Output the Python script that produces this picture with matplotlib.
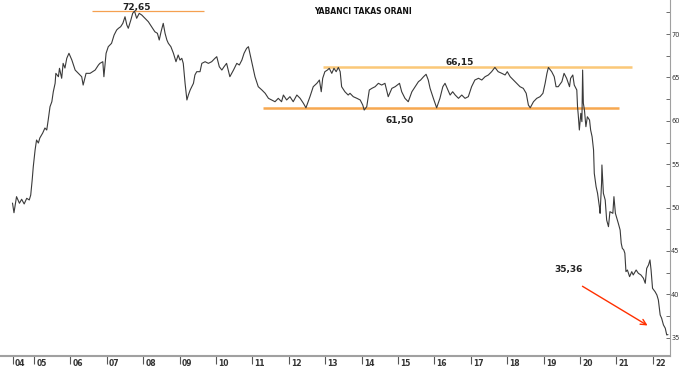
import numpy as np
import matplotlib.pyplot as plt
from matplotlib.transforms import blended_transform_factory

# yabanci takas orani (foreign share, %)
years = [2004.41, 2004.45, 2004.52, 2004.60, 2004.66, 2004.73, 2004.80, 2004.87, 2004.91, 2004.95,
         2004.98, 2005.03, 2005.07, 2005.12, 2005.16, 2005.24, 2005.30, 2005.35, 2005.39, 2005.44,
         2005.49, 2005.53, 2005.58, 2005.60, 2005.67, 2005.70, 2005.76, 2005.80, 2005.85, 2005.90,
         2005.96, 2006.04, 2006.13, 2006.22, 2006.31, 2006.35, 2006.43, 2006.54, 2006.68, 2006.77,
         2006.81, 2006.89, 2006.92, 2006.98, 2007.04, 2007.13, 2007.20, 2007.27, 2007.32, 2007.38,
         2007.44, 2007.50, 2007.55, 2007.59, 2007.66, 2007.71, 2007.76, 2007.82, 2007.89, 2007.96,
         2008.05, 2008.14, 2008.23, 2008.32, 2008.39, 2008.44, 2008.49, 2008.55, 2008.60, 2008.65,
         2008.69, 2008.76, 2008.83, 2008.90, 2008.96, 2009.01, 2009.06, 2009.10, 2009.15, 2009.20,
         2009.24, 2009.29, 2009.38, 2009.42, 2009.47, 2009.56, 2009.61, 2009.70, 2009.79, 2009.88,
         2009.97, 2010.02, 2010.09, 2010.16, 2010.22, 2010.29, 2010.38, 2010.48, 2010.57, 2010.64,
         2010.71, 2010.77, 2010.84, 2010.89, 2010.93, 2011.01, 2011.07, 2011.16, 2011.26, 2011.35,
         2011.44, 2011.53, 2011.62, 2011.71, 2011.80, 2011.85, 2011.94, 2012.03, 2012.12, 2012.22,
         2012.31, 2012.40, 2012.47, 2012.58, 2012.67, 2012.77, 2012.84, 2012.89, 2012.93, 2012.99,
         2013.06, 2013.11, 2013.18, 2013.24, 2013.30, 2013.36, 2013.41, 2013.45, 2013.54, 2013.63,
         2013.68, 2013.77, 2013.87, 2013.96, 2014.03, 2014.07, 2014.14, 2014.21, 2014.28, 2014.37,
         2014.46, 2014.55, 2014.64, 2014.73, 2014.83, 2014.92, 2015.04, 2015.10, 2015.19, 2015.28,
         2015.38, 2015.47, 2015.56, 2015.62, 2015.70, 2015.77, 2015.83, 2015.88, 2015.97, 2016.06,
         2016.15, 2016.23, 2016.29, 2016.35, 2016.43, 2016.50, 2016.57, 2016.66, 2016.75, 2016.84,
         2016.93, 2017.02, 2017.11, 2017.21, 2017.30, 2017.39, 2017.48, 2017.57, 2017.66, 2017.75,
         2017.85, 2017.94, 2018.00, 2018.08, 2018.17, 2018.26, 2018.35, 2018.44, 2018.52, 2018.58,
         2018.63, 2018.72, 2018.81, 2018.90, 2018.98, 2019.04, 2019.09, 2019.13, 2019.22, 2019.29,
         2019.34, 2019.40, 2019.50, 2019.56, 2019.63, 2019.71, 2019.74, 2019.80, 2019.84, 2019.91,
         2019.93, 2019.95, 2019.98, 2020.02, 2020.05, 2020.07, 2020.09, 2020.12, 2020.16, 2020.20,
         2020.26, 2020.29, 2020.33, 2020.37, 2020.39, 2020.44, 2020.48, 2020.53, 2020.55, 2020.59,
         2020.60, 2020.64, 2020.69, 2020.73, 2020.78, 2020.82, 2020.90, 2020.93, 2020.97, 2021.05,
         2021.10, 2021.13, 2021.16, 2021.20, 2021.23, 2021.26, 2021.30, 2021.36, 2021.42, 2021.46,
         2021.54, 2021.60, 2021.67, 2021.74, 2021.79, 2021.83, 2021.88, 2021.92, 2021.95, 2021.99,
         2022.06, 2022.11, 2022.15, 2022.20, 2022.24, 2022.29, 2022.34, 2022.38, 2022.41]
ratio = [50.50, 49.41, 51.26, 50.50, 50.96, 50.42, 51.07, 50.88, 51.45, 53.18,
         54.71, 56.64, 57.79, 57.44, 58.02, 58.60, 59.17, 58.94, 60.09, 61.63,
         62.20, 63.35, 64.32, 65.47, 65.08, 66.05, 64.90, 66.62, 66.08, 67.20,
         67.78, 67.00, 65.85, 65.47, 65.08, 64.12, 65.47, 65.47, 65.85, 66.43,
         66.62, 66.81, 65.08, 67.78, 68.54, 68.93, 69.88, 70.46, 70.66, 70.84,
         71.23, 71.99, 71.04, 70.66, 71.61, 72.38, 72.65, 71.81, 72.38, 72.19,
         71.81, 71.42, 70.84, 70.26, 70.08, 69.31, 70.26, 71.23, 70.08, 69.31,
         68.93, 68.54, 67.78, 66.81, 67.58, 67.00, 67.20, 66.62, 64.32, 62.40,
         62.97, 63.55, 64.32, 65.28, 65.66, 65.66, 66.62, 66.81, 66.62, 66.81,
         67.20, 67.39, 66.23, 65.85, 66.23, 66.62, 65.08, 65.85, 66.62, 66.43,
         67.00, 67.78, 68.35, 68.54, 67.78, 66.23, 65.08, 63.93, 63.55, 63.17,
         62.59, 62.40, 62.20, 62.59, 62.20, 62.97, 62.40, 62.78, 62.20, 62.97,
         62.59, 62.02, 61.50, 62.78, 63.93, 64.32, 64.70, 63.35, 64.90, 65.66,
         65.85, 66.05, 65.47, 66.05, 65.66, 66.15, 65.66, 63.93, 63.35, 62.97,
         63.17, 62.78, 62.59, 62.40, 61.82, 61.24, 61.63, 63.55, 63.74, 63.93,
         64.32, 64.12, 64.32, 62.78, 63.74, 63.93, 64.32, 63.35, 62.59, 62.20,
         63.35, 63.93, 64.51, 64.70, 65.08, 65.36, 64.70, 63.74, 62.59, 61.50,
         62.59, 63.93, 64.32, 63.74, 62.97, 63.35, 62.97, 62.59, 62.97, 62.59,
         62.78, 63.93, 64.70, 64.90, 64.70, 65.08, 65.28, 65.66, 66.15, 65.66,
         65.47, 65.28, 65.66, 65.08, 64.70, 64.32, 63.93, 63.74, 63.17, 61.82,
         61.50, 62.20, 62.59, 62.78, 63.17, 64.32, 65.47, 66.15, 65.66, 65.08,
         63.93, 63.93, 64.51, 65.47, 64.90, 63.93, 64.90, 65.28, 64.12, 63.55,
         61.63, 60.67, 58.94, 60.86, 59.90, 65.85, 62.02, 61.24, 59.32, 60.47,
         60.09, 58.94, 58.17, 56.64, 53.95, 52.41, 51.65, 50.11, 49.34, 52.80,
         54.91, 51.65, 50.88, 48.57, 47.80, 49.53, 49.34, 51.26, 49.34, 48.19,
         47.42, 45.89, 45.31, 45.12, 44.74, 42.62, 42.81, 42.04, 42.62, 42.24,
         42.81, 42.43, 42.24, 41.86, 41.28, 43.00, 43.39, 43.97, 42.81, 40.70,
         40.31, 39.93, 39.36, 37.63, 37.25, 36.48, 36.10, 35.33, 35.36]

year_ticks = list(range(2005, 2023))
year_labels = ['05', '06', '07', '08', '09', '10', '11', '12', '13', '14',
               '15', '16', '17', '18', '19', '20', '21', '22']
y_ticks = [35, 40, 45, 50, 55, 60, 65, 70]

peak = 72.65
resistance = 66.15
support = 61.50
last = 35.36

fig = plt.figure(figsize=(6.8, 3.68), dpi=100)
ax = fig.add_axes([0, 12 / 368, 670 / 680, 356 / 368])

ax.plot(years, ratio, color='#3a3a3a', lw=0.8, zorder=3)

# seviyeler
ax.hlines(peak, 2006.59, 2009.67, color='#f5a050', lw=0.9, zorder=2)
ax.hlines(resistance, 2012.94, 2021.43, color='#fbc878', lw=1.8, zorder=2)
ax.hlines(support, 2011.29, 2021.07, color='#f7a850', lw=1.8, zorder=2)

txt = dict(fontsize=6.5, color='#222222', ha='center', va='center', fontweight='bold')
ax.text(2007.83, 73.05, '72,65', **txt)
ax.text(2016.68, 66.77, '66,15', **txt)
ax.text(2015.05, 59.98, '61,50', **txt)
ax.text(2019.67, 42.81, '35,36', **txt)
fig.text(363 / 680, 1 - 11 / 368, 'YABANCI TAKAS ORANI', fontsize=5.5,
         fontweight='bold', color='#111111', ha='center', va='center')

ax.annotate('', xy=(2021.92, 36.25), xytext=(2020.0, 41.1),
            arrowprops=dict(arrowstyle='->', color='#ff3000', lw=1.0))

ax.set_xlim(2004.066, 2022.47)
ax.set_ylim(32.9, 73.92)

for s in ['top', 'left']:
    ax.spines[s].set_visible(False)
ax.spines['bottom'].set_color('#a0a0a0')
ax.spines['bottom'].set_linewidth(1.5)
ax.spines['right'].set_color('#a0a0a0')

# x ekseni: yil basinda cizgi, etiket sagda
ax.set_xticks([years[0]] + year_ticks)
ax.set_xticklabels([])
ax.tick_params(axis='x', direction='out', length=6, width=0.8, color='#555555')
trans = blended_transform_factory(ax.transData, ax.transAxes)
for x, lab in zip([years[0]] + year_ticks, ['04'] + year_labels):
    ax.text(x + 0.06, -0.022, lab, transform=trans, fontsize=5.5, color='#333333',
            ha='left', va='center', fontweight='bold')

ax.yaxis.tick_right()
ax.set_yticks(y_ticks)
ax.set_yticks(np.arange(35, 72.6, 2.5), minor=True)
ax.set_yticklabels([str(v) for v in y_ticks])
ax.tick_params(axis='y', which='both', direction='in', length=3, width=0.6,
               color='#555555', labelsize=4.8, labelcolor='#333333', pad=0.8)

fig.savefig('out.png', dpi=100)
